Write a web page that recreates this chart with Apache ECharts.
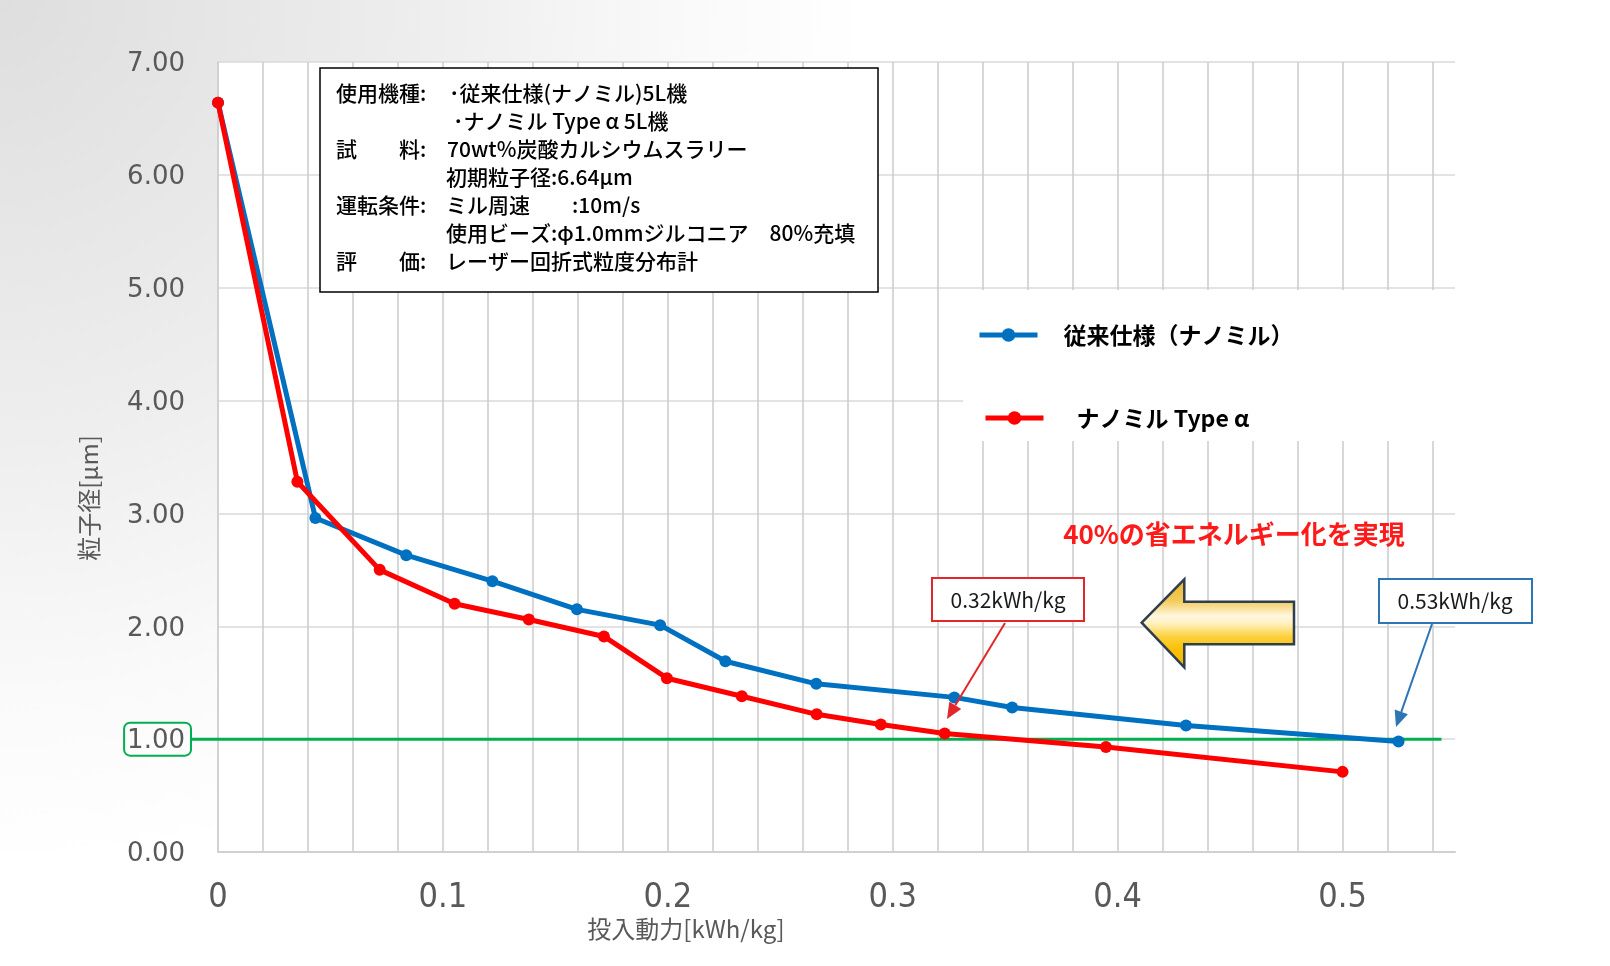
<!DOCTYPE html>
<html><head><meta charset="utf-8">
<script src="https://cdn.jsdelivr.net/npm/echarts@6/dist/echarts.min.js"></script>
<style>html,body{margin:0;padding:0;background:#fff}#c{width:1610px;height:966px}</style>
</head><body><div id="c"></div>
<script>
// ---- data ----
const seriesNames = ['従来仕様（ナノミル）', 'ナノミル Type α'];
const convX = [0, 0.0433, 0.0837, 0.1220, 0.1596, 0.1966, 0.2256, 0.2660, 0.3274, 0.3531, 0.4304, 0.5249];
const convY = [6.64, 2.96, 2.63, 2.40, 2.15, 2.01, 1.69, 1.49, 1.37, 1.28, 1.12, 0.98];
const alphaX = [0, 0.0353, 0.0719, 0.1052, 0.1382, 0.1716, 0.1996, 0.2329, 0.2662, 0.2947, 0.3231, 0.3948, 0.5000];
const alphaY = [6.64, 3.28, 2.50, 2.20, 2.06, 1.91, 1.54, 1.38, 1.22, 1.13, 1.05, 0.93, 0.71];
const xLabelValues = [0, 0.1, 0.2, 0.3, 0.4, 0.5];
const targetSize = 1.00;
const xAxisName = '投入動力[kWh/kg]';
const yAxisName = '粒子径[μm]';
const noteLabels = ['使用機種:', '', '試　　料:', '', '運転条件:', '', '評　　価:'];
const noteTexts = ['･従来仕様(ナノミル)5L機', '･ナノミル Type α 5L機', '70wt%炭酸カルシウムスラリー', '初期粒子径:6.64μm', 'ミル周速　　:10m/s', '使用ビーズ:φ1.0mmジルコニア　80%充填', 'レーザー回折式粒度分布計'];
const calloutTexts = ['0.32kWh/kg', '0.53kWh/kg'];
const claimText = '40%の省エネルギー化を実現';

// ---- chart ----
const JP = "'Noto Sans CJK JP', 'Noto Sans', sans-serif";
const BLUE = '#0070c0', RED = '#ff0000', GREEN = '#00b050';
const chart = echarts.init(document.getElementById('c'), null, {renderer: 'canvas'});

function toPairs(xs, ys) { return xs.map((x, i) => [x, ys[i]]); }

const legendCommon = {
  orient: 'vertical', padding: 0, selectedMode: false, itemWidth: 58, itemHeight: 17,
  lineStyle: {width: 5}
};

const option = {
  animation: false,
  backgroundColor: new echarts.graphic.RadialGradient(0, 0, 0.9, [
    {offset: 0, color: '#dedede'},
    {offset: 0.5, color: '#eeeeee'},
    {offset: 0.8, color: '#fafafa'},
    {offset: 1, color: '#ffffff'}
  ]),
  grid: {left: 218, right: 155, top: 62, bottom: 114, show: true, backgroundColor: '#ffffff', borderWidth: 0},
  xAxis: {
    type: 'value', min: 0, max: 0.55, interval: 0.02,
    axisLine: {show: true, lineStyle: {color: '#d0d0d0', width: 2}},
    axisTick: {show: false},
    splitLine: {show: true, showMaxLine: false, lineStyle: {color: '#cbcbcb', width: 1.5}},
    axisLabel: {
      margin: 29, fontSize: 34, color: '#595959',
      fontFamily: "'Liberation Sans Narrow', 'DejaVu Sans Condensed', sans-serif",
      formatter: function (v) {
        const hit = xLabelValues.find(t => Math.abs(t - v) < 1e-6);
        if (hit === undefined) return '';
        return hit === 0 ? '0' : hit.toFixed(1);
      }
    }
  },
  yAxis: {
    type: 'value', min: 0, max: 7, interval: 1,
    axisLine: {show: true, lineStyle: {color: '#d0d0d0', width: 1.5}},
    axisTick: {show: false},
    splitLine: {show: true, lineStyle: {color: '#dadada', width: 1.5}},
    axisLabel: {
      margin: 27, color: '#595959',
      formatter: function (v) {
        return Math.abs(v - targetSize) < 1e-9 ? '{g|' + v.toFixed(2) + '}' : '{n|' + v.toFixed(2) + '}';
      },
      rich: {
        n: {fontSize: 26, fontFamily: "'DejaVu Sans', sans-serif", color: '#595959', padding: [6, 6, 1, 3]},
        g: {fontSize: 26, fontFamily: "'DejaVu Sans', sans-serif", color: '#595959', padding: [6, 6, 1, 3],
            borderColor: GREEN, borderWidth: 2, borderRadius: 6}
      }
    }
  },
  legend: [
    Object.assign({data: [seriesNames[0]], left: 977, top: 320,
     textStyle: {fontSize: 23, fontWeight: 'bold', color: '#000', fontFamily: JP, lineHeight: 30, padding: [0, 0, 0, 21]}}, legendCommon),
    Object.assign({data: [seriesNames[1]], left: 983, top: 403,
     textStyle: {fontSize: 23, fontWeight: 'bold', color: '#000', fontFamily: JP, lineHeight: 30, padding: [0, 0, 0, 28]}}, legendCommon)
  ],
  series: [
    {type: 'line', name: seriesNames[0], data: toPairs(convX, convY), symbol: 'circle', symbolSize: 12,
     lineStyle: {width: 5, color: BLUE}, itemStyle: {color: BLUE}, z: 3},
    {type: 'line', name: seriesNames[1], data: toPairs(alphaX, alphaY), symbol: 'circle', symbolSize: 12,
     lineStyle: {width: 5, color: RED}, itemStyle: {color: RED}, z: 4}
  ]
};
chart.setOption(option);

// ---- annotations (graphic) ----
function arrowEls(x1, y1, x2, y2, color) {
  const a = Math.atan2(y2 - y1, x2 - x1), L = 16, W = 7;
  const bx = x2 - L * Math.cos(a), by = y2 - L * Math.sin(a);
  const s = Math.sin(a), c = Math.cos(a);
  return [
    {type: 'line', z: 20, shape: {x1: x1, y1: y1, x2: bx, y2: by}, style: {stroke: color, lineWidth: 2}},
    {type: 'polygon', z: 20, shape: {points: [[x2, y2], [bx + W * s, by - W * c], [bx - W * s, by + W * c]]}, style: {fill: color}}
  ];
}

const yOne = chart.convertToPixel({yAxisIndex: 0}, targetSize);
const xEnd = chart.convertToPixel({xAxisIndex: 0}, 0.544);
const g = [];

// green target line (under series)
g.push({type: 'line', z: 1, shape: {x1: 191, y1: yOne, x2: xEnd, y2: yOne}, style: {stroke: GREEN, lineWidth: 3}});

// white area behind legend
g.push({type: 'rect', z: 1, shape: {x: 963, y: 290, width: 492, height: 151}, style: {fill: '#ffffff'}});

// axis names
g.push({type: 'text', z: 10, x: 686, y: 929, style: {text: xAxisName, fontSize: 24, fontFamily: JP, fill: '#595959', align: 'center', verticalAlign: 'middle'}});
g.push({type: 'text', z: 10, x: 89, y: 498, rotation: Math.PI / 2, style: {text: yAxisName, fontSize: 24, fontFamily: JP, fill: '#595959', align: 'center', verticalAlign: 'middle'}});

// condition box
g.push({type: 'rect', z: 10, shape: {x: 320, y: 68, width: 558, height: 224}, style: {fill: '#ffffff', stroke: '#000', lineWidth: 1.5}});
const lineY0 = 93, lineStep = 28;
const textX = [449, 453, 447, 446, 446, 446, 446];
noteTexts.forEach((t, i) => {
  const y = lineY0 + i * lineStep;
  if (noteLabels[i]) g.push({type: 'text', z: 11, x: 336, y: y, style: {text: noteLabels[i], fontSize: 21, fontWeight: 500, fontFamily: JP, fill: '#000', verticalAlign: 'middle'}});
  g.push({type: 'text', z: 11, x: textX[i], y: y, style: {text: t, fontSize: 21, fontWeight: 500, fontFamily: JP, fill: '#000', verticalAlign: 'middle'}});
});

// claim text
g.push({type: 'text', z: 10, x: 1234, y: 534, style: {text: claimText, fontSize: 26, fontWeight: 'bold', fontFamily: JP, fill: '#ff1a1a', align: 'center', verticalAlign: 'middle'}});

// callout boxes
g.push({type: 'rect', z: 10, shape: {x: 932, y: 578, width: 152, height: 43}, style: {fill: '#fff', stroke: '#e3262b', lineWidth: 2}});
g.push({type: 'text', z: 11, x: 1008, y: 600, style: {text: calloutTexts[0], fontSize: 21, fontFamily: JP, fill: '#1a1a1a', align: 'center', verticalAlign: 'middle'}});
g.push({type: 'rect', z: 10, shape: {x: 1379, y: 579, width: 153, height: 44}, style: {fill: '#fff', stroke: '#2e75b6', lineWidth: 2}});
g.push({type: 'text', z: 11, x: 1455, y: 601, style: {text: calloutTexts[1], fontSize: 21, fontFamily: JP, fill: '#1a1a1a', align: 'center', verticalAlign: 'middle'}});
arrowEls(1005, 623, 947, 719, '#e3262b').forEach(e => g.push(e));
arrowEls(1432, 624, 1396, 727, '#2e75b6').forEach(e => g.push(e));

// big yellow arrow
g.push({type: 'polygon', z: 10,
  shape: {points: [[1141.7, 622.7], [1184.3, 579.3], [1184.3, 601.7], [1294, 601.7], [1294, 644.3], [1184.3, 644.3], [1184.3, 667.3]]},
  style: {
    fill: new echarts.graphic.LinearGradient(0, 0, 0, 1, [
      {offset: 0, color: '#e9b52c'}, {offset: 0.25, color: '#f3cb5a'}, {offset: 0.42, color: '#fff7e0'},
      {offset: 0.5, color: '#fff1c0'}, {offset: 0.65, color: '#fcd03c'}, {offset: 0.8, color: '#f9bf00'}, {offset: 1, color: '#f2b800'}
    ]),
    stroke: '#2f3f4f', lineWidth: 2.5, lineJoin: 'miter'
  }});

chart.setOption({graphic: {elements: g}});
</script>
</body></html>
